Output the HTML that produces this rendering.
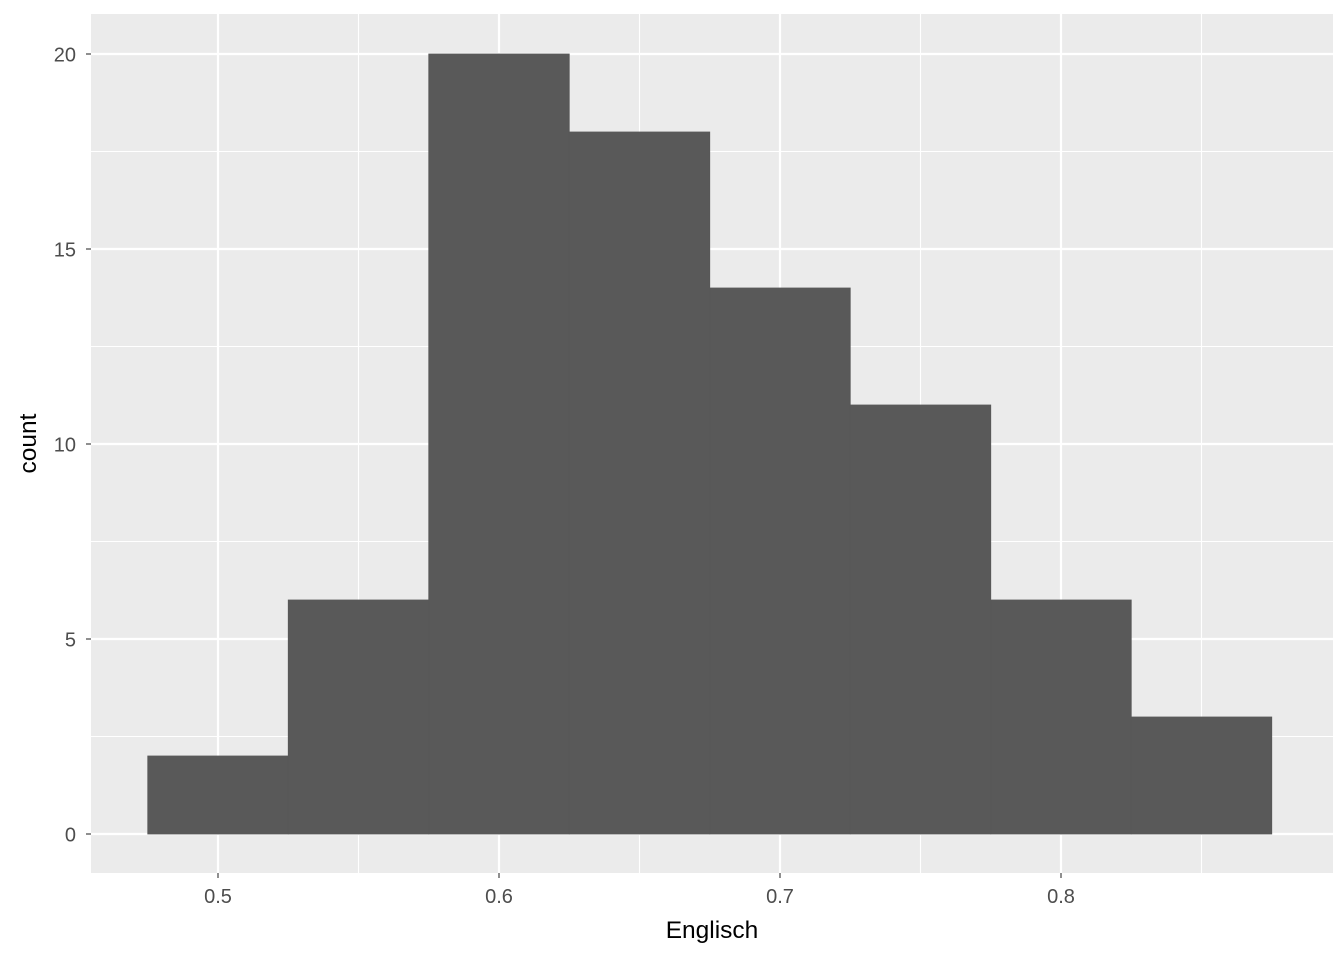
<!DOCTYPE html>
<html><head><meta charset="utf-8"><style>
html,body{margin:0;padding:0;background:#fff;}
svg{display:block;font-family:"Liberation Sans",sans-serif;}
</style></head><body>
<svg id="chart" width="1344" height="960"></svg>
<script>
const binStarts=[0.475,0.525,0.575,0.625,0.675,0.725,0.775,0.825];
const binWidth=0.05;
const counts=[2,6,20,18,14,11,6,3];
const xTicks=[0.5,0.6,0.7,0.8];
const xTickLabels=["0.5","0.6","0.7","0.8"];
const yTicks=[0,5,10,15,20];
const yTickLabels=["0","5","10","15","20"];

const NS="http://www.w3.org/2000/svg";
const svg=document.getElementById('chart');
const L=91,R=1333,T=14,B=873;
const x=v=>218+(v-0.5)*2810;
const y=v=>834-v*39;
function mk(tag,attrs,parent){const e=document.createElementNS(NS,tag);for(const k in attrs)e.setAttribute(k,attrs[k]);(parent||svg).appendChild(e);return e;}

const panel=mk('rect',{x:L,y:T,width:R-L,height:B-T,fill:'#ebebeb'});


const grid=mk('g',{});


for(let i=0;i<xTicks.length;i++){const v=xTicks[i]+0.05;if(x(v)<R)mk('line',{x1:x(v),x2:x(v),y1:T,y2:B,stroke:'#fff','stroke-width':1.1},grid);}
for(let i=0;i<yTicks.length-1;i++){const v=yTicks[i]+2.5;mk('line',{x1:L,x2:R,y1:y(v),y2:y(v),stroke:'#fff','stroke-width':1.1},grid);}
for(const v of xTicks)mk('line',{x1:x(v),x2:x(v),y1:T,y2:B,stroke:'#fff','stroke-width':2.2},grid);
for(const v of yTicks)mk('line',{x1:L,x2:R,y1:y(v),y2:y(v),stroke:'#fff','stroke-width':2.2},grid);

for(let i=0;i<counts.length;i++){
  const r=mk('rect',{x:x(binStarts[i]),y:y(counts[i]),width:x(binStarts[i]+binWidth)-x(binStarts[i]),height:y(0)-y(counts[i]),fill:'#595959',stroke:'#595959','stroke-width':0.8});
  
  
}
for(let i=0;i<xTicks.length;i++){
  mk('line',{x1:x(xTicks[i]),x2:x(xTicks[i]),y1:B,y2:B+5,stroke:'#333','stroke-width':1.1});
  const t=mk('text',{x:x(xTicks[i]),y:903,'text-anchor':'middle','font-size':20,fill:'#4d4d4d'});
  t.textContent=xTickLabels[i];
  
  
}
for(let i=0;i<yTicks.length;i++){
  mk('line',{x1:L-5,x2:L,y1:y(yTicks[i]),y2:y(yTicks[i]),stroke:'#333','stroke-width':1.1});
  const t=mk('text',{x:76,y:y(yTicks[i])+7.5,'text-anchor':'end','font-size':20,fill:'#4d4d4d'});
  t.textContent=yTickLabels[i];
  
  
}
const xt=mk('text',{x:(L+R)/2,y:938,'text-anchor':'middle','font-size':24.5,fill:'#000'});
xt.textContent='Englisch';


const cy=(T+B)/2;
const yt=mk('text',{x:36,y:cy,'text-anchor':'middle','font-size':24.5,fill:'#000',transform:'rotate(-90 36 '+cy+')'});
yt.textContent='count';


</script>
</body></html>
